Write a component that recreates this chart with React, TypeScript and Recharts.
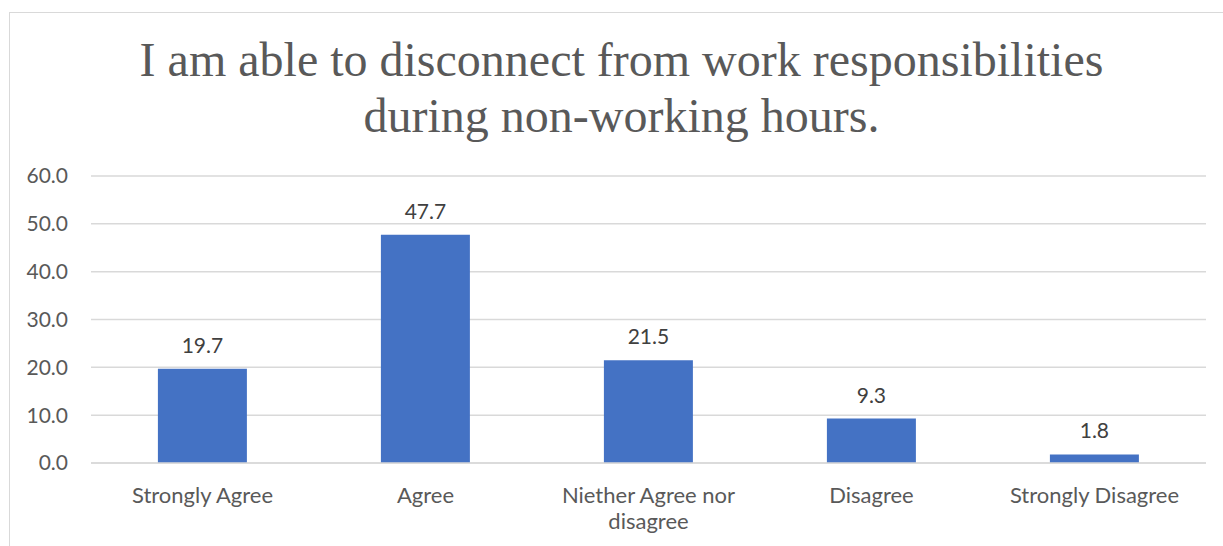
import React from 'react';
import {
  BarChart,
  Bar,
  XAxis,
  YAxis,
  CartesianGrid,
  LabelList
} from 'recharts';

const categories = [
  'Strongly Agree',
  'Agree',
  'Niether Agree nor disagree',
  'Disagree',
  'Strongly Disagree'
];
const values = [19.7, 47.7, 21.5, 9.3, 1.8];
const yTicks = [0, 10, 20, 30, 40, 50, 60];
const titleLines = [
  'I am able to disconnect from work responsibilities',
  'during non-working hours.'
];

const data = categories.map((name, i) => ({ name, value: values[i] }));

const LABEL_FONT = 'Lato, "Open Sans", sans-serif';
const GRID = '#d9d9d9';
const CAT_SIZE = 22;

// greedy word wrap using canvas text metrics
let ctx: CanvasRenderingContext2D | null = null;
const wrap = (text: string, maxWidth: number): string[] => {
  if (!ctx) ctx = document.createElement('canvas').getContext('2d');
  if (!ctx) return [text];
  ctx.font = `${CAT_SIZE}px Lato`;
  const lines: string[] = [];
  let cur = '';
  text.split(' ').forEach(word => {
    const next = cur ? `${cur} ${word}` : word;
    if (cur && ctx!.measureText(next).width > maxWidth) {
      lines.push(cur);
      cur = word;
    } else {
      cur = next;
    }
  });
  if (cur) lines.push(cur);
  return lines;
};

const CategoryTick = (props: any) => {
  const { x, y, payload } = props;
  const lines = wrap(String(payload.value), 205);
  return (
    <text
      x={x}
      y={y}
      textAnchor="middle"
      fill="#595959"
      style={{ fontSize: CAT_SIZE, fontFamily: LABEL_FONT }}
    >
      {lines.map((line, i) => (
        <tspan key={i} x={x} dy={i === 0 ? 16 : 26}>
          {line}
        </tspan>
      ))}
    </text>
  );
};

export default function App() {
  return (
    <div style={{ position: 'relative', width: 1223, height: 546, overflow: 'hidden', background: '#fff' }}>
      <style>{'body{margin:0;overflow:hidden}'}</style>
      {/* chart frame */}
      <div
        style={{
          position: 'absolute',
          left: 9,
          top: 12,
          width: 1240,
          height: 560,
          border: `1.5px solid ${GRID}`,
          boxSizing: 'border-box'
        }}
      />
      {/* title */}
      <div
        style={{
          position: 'absolute',
          left: 0,
          width: 1243,
          top: 32,
          textAlign: 'center',
          fontFamily: '"Liberation Serif", serif',
          fontSize: 48,
          lineHeight: '56px',
          color: '#595959'
        }}
      >
        {titleLines.map((line, i) => (
          <div key={i}>{line}</div>
        ))}
      </div>
      <div style={{ position: 'absolute', left: 0, top: 0 }}>
        <BarChart
          width={1223}
          height={546}
          data={data}
          margin={{ top: 176, right: 17, bottom: 0, left: 0 }}
          barCategoryGap="30%"
        >
          <CartesianGrid vertical={false} stroke={GRID} strokeWidth={1.5} />
          <XAxis
            dataKey="name"
            height={83}
            axisLine={{ stroke: GRID, strokeWidth: 1.5 }}
            tickLine={false}
            tickSize={0}
            tickMargin={24}
            interval={0}
            tick={<CategoryTick />}
          />
          <YAxis
            width={91}
            domain={[0, 60]}
            ticks={yTicks}
            tickFormatter={(v: number) => v.toFixed(1)}
            axisLine={false}
            tickLine={false}
            tickSize={0}
            tickMargin={23}
            tick={{ fill: '#595959', fontSize: 21, fontFamily: LABEL_FONT }}
          />
          <Bar dataKey="value" fill="#4472c4" isAnimationActive={false}>
            <LabelList
              dataKey="value"
              position="top"
              offset={16}
              formatter={(v: number) => v.toFixed(1)}
              style={{ fill: '#404040', fontSize: 21, fontFamily: LABEL_FONT }}
            />
          </Bar>
        </BarChart>
      </div>
    </div>
  );
}
